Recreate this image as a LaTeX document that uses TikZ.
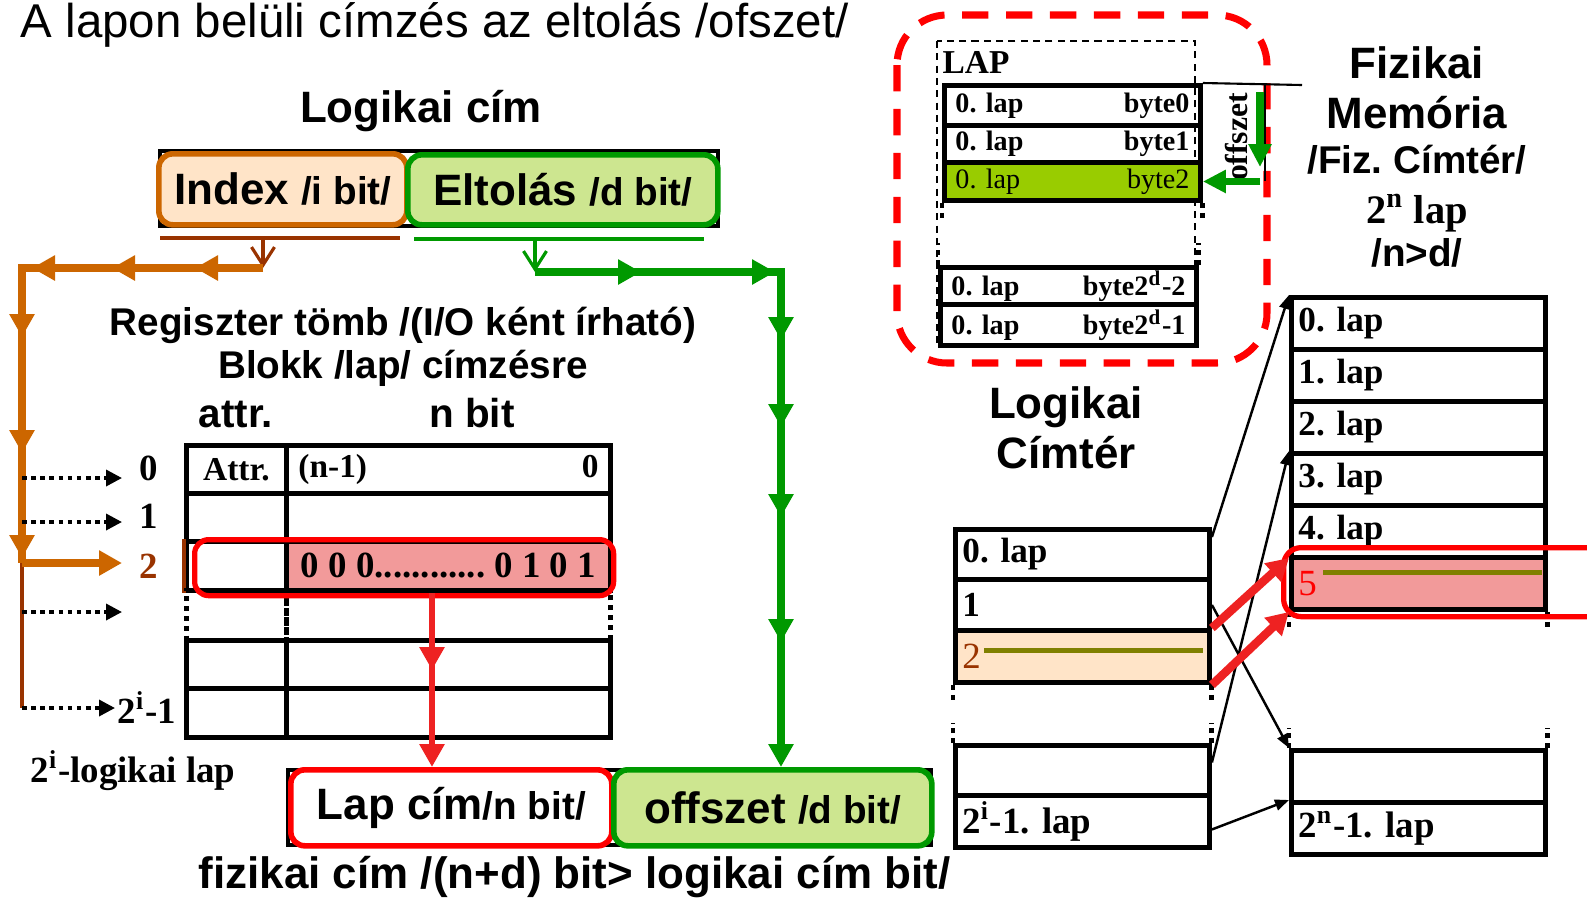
\documentclass[tikz,border=0pt]{standalone}
\usepackage{fontspec}
\setmainfont{Liberation Sans}
\newfontfamily\tms{Liberation Serif}
\usepackage{tikz}
\usetikzlibrary{arrows.meta,positioning,calc,decorations.markings}
\definecolor{idxorange}{HTML}{CC6600}
\definecolor{idxbrown}{HTML}{993300}
\definecolor{idxpeach}{HTML}{FFE4C8}
\definecolor{offgreen}{HTML}{009900}
\definecolor{offlight}{HTML}{CDE690}
\definecolor{bytegreen}{HTML}{99CC00}
\definecolor{hitred}{HTML}{FF0000}
\definecolor{arrowred}{HTML}{EE2222}
\definecolor{hitpink}{HTML}{F29A9A}
\definecolor{lineolive}{HTML}{808000}
\newcommand{\fsz}[1]{\fontsize{#1}{#1}\selectfont}
\frenchspacing

\begin{document}
\begin{tikzpicture}[y=-1cm,
    sans/.style={font=\bfseries\fsz{#1}},
    serif/.style={font=\tms\bfseries\fsz{#1}},
    cell/.style={draw, line width=1.4pt, inner sep=0pt, anchor=north west},
    dotcell/.style={cell, dash pattern=on 1.4pt off 1.4pt},
    lrow/.style={cell, minimum width=2.56cm, text width=2.34cm, align=left, serif=8},
    lcell/.style={cell, minimum width=2.54cm, text width=2.40cm, align=left, serif=10},
    addrbox/.style={draw, line width=1.6pt, rounded corners=4pt, inner sep=0pt, font=\bfseries, anchor=north west},
    midtip/.style={postaction={decorate, decoration={markings, mark=at position #1 with {\arrow{Triangle[length=2.3mm,width=2.4mm]}}}}},
    bigarrow/.style={line width=2pt, -{Triangle[length=2.3mm,width=2.4mm]}},
    dotarrow/.style={line width=1pt, dash pattern=on 1.3pt off 1.3pt, -{Triangle[length=1.6mm,width=1.6mm]}},
    vopen/.style={line width=0.9pt, -{Straight Barb[length=1.8mm,width=2.3mm]}},
    maparrow/.style={line width=0.7pt, -{Triangle[length=1.4mm,width=1.1mm]}},
    hitarrow/.style={line width=2.4pt, arrowred, -{Triangle[length=2.2mm,width=2.4mm]}},
    dotmark/.style={line width=1.4pt, dash pattern=on 1.4pt off 1.4pt}
]
\useasboundingbox (0,0) rectangle (15.87,9.00);

\node[font=\fsz{13.5}, anchor=base west, inner sep=0pt] (title) at (0.20,0.37) {A lapon belüli címzés az eltolás /ofszet/};
\node[sans=12.5, anchor=base] (logcim) at (4.21,1.22) {Logikai cím};

% logikai cim
\draw[line width=1.2pt] (1.60,1.51) rectangle (7.18,2.26);
\node[addrbox, draw=idxorange, fill=idxpeach, minimum width=2.48cm, minimum height=0.71cm] (index) at (1.56,1.51) {\fsz{12.5}Index \fsz{11}/i bit/};
\node[addrbox, draw=offgreen, fill=offlight, minimum width=3.10cm, minimum height=0.70cm] (eltolas) at (4.05,1.52) {\fsz{12.5}Eltolás \fsz{11}/d bit/};
\draw[idxbrown, line width=0.9pt] (1.60,2.38) -- (4.00,2.38);
\draw[offgreen, line width=0.9pt] (4.14,2.39) -- (7.04,2.39);

% register table
\node[sans=11, anchor=base] (regtitle) at (4.03,3.35) {Regiszter tömb /(I/O ként írható)};
\node[sans=11, anchor=base] (blokk) at (4.03,3.78) {Blokk /lap/ címzésre};
\node[sans=11.5, anchor=base] (attrhead) at (2.36,4.27) {attr.};
\node[sans=11.5, anchor=base] (nbit) at (4.72,4.27) {n bit};

\node[cell, minimum width=1cm, minimum height=0.48cm, serif=9.5] (a0) at (1.84,4.43) {Attr.};
\node[cell, minimum width=3.24cm, minimum height=0.48cm, text width=3.0cm, align=left, serif=9.5] (n0) at (2.84,4.43) {(n-1)\hfill 0};
\node[cell, minimum width=1cm, minimum height=0.48cm] (a1) at (1.84,4.91) {};
\node[cell, minimum width=3.24cm, minimum height=0.48cm] (n1) at (2.84,4.91) {};
\node[cell, minimum width=1cm, minimum height=0.49cm] (a2) at (1.84,5.39) {};
\node[cell, minimum width=3.24cm, minimum height=0.49cm, fill=hitpink, serif=10.5] (n2) at (2.84,5.39) {0 0 0............ 0 1 0 1};
\draw[idxbrown, line width=1.4pt] (a2.north west) -- (a2.south west);
\node[dotcell, minimum width=1cm, minimum height=0.50cm] (a3) at (1.84,5.88) {};
\node[dotcell, minimum width=3.24cm, minimum height=0.50cm] (n3) at (2.84,5.88) {};
\node[cell, minimum width=1cm, minimum height=0.48cm] (a4) at (1.84,6.38) {};
\node[cell, minimum width=3.24cm, minimum height=0.48cm] (n4) at (2.84,6.38) {};
\node[cell, minimum width=1cm, minimum height=0.49cm] (a5) at (1.84,6.86) {};
\node[cell, minimum width=3.24cm, minimum height=0.49cm] (n5) at (2.84,6.86) {};
\node[draw=hitred, line width=1.5pt, rounded corners=4pt, inner sep=0pt, minimum width=4.19cm, minimum height=0.56cm, anchor=north west] (hit) at (1.92,5.37) {};

\node[serif=10.5, anchor=base] (row0) at (1.49,4.80) {0};
\node[serif=10.5, anchor=base] (row1) at (1.49,5.28) {1};
\node[serif=10.5, anchor=base, text=idxbrown] (row2) at (1.49,5.78) {2};
\node[serif=10.5, anchor=base west, inner sep=0pt] (rowlast) at (1.17,7.23) {2\textsuperscript{i}-1};
\node[serif=10.5, anchor=base west, inner sep=0pt] (loglap) at (0.30,7.82) {2\textsuperscript{i}-logikai lap};

% fizikai cim
\draw[line width=1.2pt] (2.88,7.70) rectangle (9.31,8.45);
\node[addrbox, draw=hitred, fill=white, minimum width=3.21cm, minimum height=0.76cm] (lapcim) at (2.88,7.67) {\fsz{12.5}Lap cím\fsz{11}/n bit/};
\node[addrbox, draw=offgreen, fill=offlight, minimum width=3.18cm, minimum height=0.76cm] (offs) at (6.11,7.67) {\fsz{12.5}offszet \fsz{11}/d bit/};
\node[sans=12.5, anchor=base west, inner sep=0pt] (fizcim) at (1.98,8.88) {fizikai cím /(n+d) bit> logikai cím bit/};

% index path
\coordinate (ibar) at (2.63,2.38);
\coordinate (iturn) at (2.63,2.68);
\coordinate (icorner) at (0.22,2.68);
\coordinate (irow2) at (0.22,5.63);
\coordinate (ilast) at (0.22,7.08);
\coordinate (e0) at (1.22,4.78);
\coordinate (e1) at (1.22,5.22);
\coordinate (e2) at (1.22,5.63);
\coordinate (e3) at (1.22,6.12);
\coordinate (e4) at (1.15,7.08);
\draw[vopen, idxbrown] (ibar) -- (iturn);
\draw[idxorange, line width=2pt, midtip=0.68cm, midtip=1.51cm, midtip=2.31cm, midtip=3.10cm, midtip=4.26cm, midtip=5.31cm] (iturn) -- (icorner) -- (irow2);
\draw[idxbrown, line width=1pt] (irow2) -- (ilast);
\draw[dotarrow] (icorner |- e0) -- (e0);
\draw[dotarrow] (icorner |- e1) -- (e1);
\draw[bigarrow, idxorange] (irow2) -- (e2);
\draw[dotarrow] (icorner |- e3) -- (e3);
\draw[dotarrow] (ilast) -- (e4);

% offset path
\coordinate (gbar) at (5.35,2.39);
\coordinate (gturn) at (5.35,2.72);
\coordinate (gcorner) at (7.81,2.72);
\draw[vopen, offgreen] (gbar) -- (gturn);
\draw[offgreen, line width=2pt, midtip=1.06cm, midtip=2.40cm, midtip=3.14cm, midtip=4.01cm, midtip=4.91cm, midtip=6.16cm, -{Triangle[length=2.3mm,width=2.4mm]}] (gturn) -- (gcorner) -- (gcorner |- offs.north);

\coordinate (rtop) at (4.32,5.93);
\draw[arrowred, line width=1.8pt, midtip=0.77cm, -{Triangle[length=2.3mm,width=2.4mm]}] (rtop) -- (rtop |- lapcim.north);

% lap
\draw[hitred, line width=2pt, dash pattern=on 7.5pt off 5pt, rounded corners=0.5cm] (8.97,0.15) rectangle (12.67,3.63);
\draw[line width=0.5pt, dash pattern=on 2pt off 1.5pt] (9.37,0.41) rectangle (11.95,3.45);
\node[serif=9.5, anchor=base west, inner sep=0pt] (laphead) at (9.42,0.73) {LAP};
\node[lrow, minimum height=0.40cm] (lr0) at (9.42,0.83) {0. lap\hfill byte0};
\node[lrow, minimum height=0.37cm] (lr1) at (9.42,1.23) {0. lap\hfill byte1};
\node[lrow, minimum height=0.38cm, fill=bytegreen, font=\tms\fsz{8}] (lr2) at (9.42,1.60) {0. lap\hfill byte2};
\node[lrow, minimum height=0.37cm] (lr3) at (9.38,2.65) {0. lap\hfill byte2\textsuperscript{d}-2};
\node[lrow, minimum height=0.41cm] (lr4) at (9.38,3.02) {0. lap\hfill byte2\textsuperscript{d}-1};
\draw[dotmark] (lr2.south west) -- ++(0,0.17);
\draw[dotmark] (lr2.south east) -- ++(0,0.17);
\draw[dotmark] (lr3.north west) -- ++(0,-0.22);
\draw[dotmark] (lr3.north east) -- ++(0,-0.22);

\coordinate (ofsend) at (13.02,0.85);
\coordinate (ofsbar) at (12.65,0.85);
\coordinate (gtop) at (12.60,0.92);
\coordinate (gbot) at (12.60,1.67);
\draw[line width=0.6pt] (lr0.north east) -- (ofsend);
\draw[line width=0.6pt] (ofsbar) -- (ofsbar |- lr2.east);
\node[serif=9, rotate=90] (ofstext) at (12.37,1.37) {offszet};
\draw[offgreen, line width=2pt, -{Triangle[length=2.3mm,width=2.2mm]}] (gtop) -- (gbot);
\draw[offgreen, line width=2pt, -{Triangle[length=2.3mm,width=2.2mm]}] (gtop |- lr2.east) -- (lr2.east);

% fizikai memoria
\node[sans=12.5, anchor=base] (fiz1) at (14.17,0.78) {Fizikai};
\node[sans=12.5, anchor=base] (fiz2) at (14.17,1.28) {Memória};
\node[sans=11, anchor=base] (fiz3) at (14.17,1.73) {/Fiz. Címtér/};
\node[serif=11.5, anchor=base] (fiz4) at (14.17,2.23) {2\textsuperscript{n} lap};
\node[sans=11, anchor=base] (fiz5) at (14.17,2.66) {/n>d/};

\node[sans=12.5, anchor=base] (logt1) at (10.66,4.18) {Logikai};
\node[sans=12.5, anchor=base] (logt2) at (10.66,4.68) {Címtér};

% logikai cimter
\node[lcell, minimum height=0.50cm] (l0) at (9.53,5.27) {0. lap};
\node[lcell, minimum height=0.51cm] (l1) at (9.53,5.77) {1};
\node[lcell, minimum height=0.52cm, fill=idxpeach, font=\tms\fsz{10.5}, text=idxbrown] (l2) at (9.53,6.28) {2};
\node[lcell, minimum height=0.50cm] (l3) at (9.53,7.43) {};
\node[lcell, minimum height=0.52cm, serif=10.5] (l4) at (9.53,7.93) {2\textsuperscript{i}-1. lap};
\draw[lineolive, line width=1.2pt] ($(l2.west)+(0.31,-0.06)$) -- ($(l2.east)+(-0.09,-0.06)$);
\draw[dotmark] (l2.south west) -- ++(0,0.18);
\draw[dotmark] (l2.south east) -- ++(0,0.18);
\draw[dotmark] (l3.north west) -- ++(0,-0.20);
\draw[dotmark] (l3.north east) -- ++(0,-0.20);

% fizikai cimter
\node[lcell, minimum height=0.52cm] (p0) at (12.89,2.95) {0. lap};
\node[lcell, minimum height=0.52cm] (p1) at (12.89,3.47) {1. lap};
\node[lcell, minimum height=0.52cm] (p2) at (12.89,3.99) {2. lap};
\node[lcell, minimum height=0.52cm] (p3) at (12.89,4.51) {3. lap};
\node[lcell, minimum height=0.52cm] (p4) at (12.89,5.03) {4. lap};
\node[lcell, minimum height=0.52cm, fill=hitpink, font=\tms\fsz{10.5}, text=hitred] (p5) at (12.89,5.55) {5};
\node[lcell, minimum height=0.52cm] (p6) at (12.89,7.48) {};
\node[lcell, minimum height=0.52cm, serif=10.5] (p7) at (12.89,8.00) {2\textsuperscript{n}-1. lap};
\draw[lineolive, line width=1.2pt] ($(p5.west)+(0.34,-0.11)$) -- ($(p5.east)+(-0.06,-0.11)$);
\draw[dotmark] (p5.south west) -- ++(0,0.18);
\draw[dotmark] (p5.south east) -- ++(0,0.18);
\draw[dotmark] (p6.north west) -- ++(0,-0.20);
\draw[dotmark] (p6.north east) -- ++(0,-0.20);
\node[draw=hitred, line width=1.5pt, rounded corners=5pt, inner sep=0pt, minimum width=3.3cm, minimum height=0.69cm, anchor=north west] (p5hit) at (12.81,5.45) {};

\draw[maparrow] ([yshift=-1mm]l0.north east) -- (p0.north west);
\draw[maparrow] (l1.east) -- (p6.north west);
\draw[maparrow] ([yshift=0.8mm]l3.east) -- (p3.north west);
\draw[maparrow] ([yshift=-0.8mm]l4.east) -- (p7.north west);
\draw[hitarrow] (l2.north east) -- ([yshift=-0.3mm]p5.north west);
\draw[hitarrow] (l2.south east) -- (p5.south west);

\end{tikzpicture}
\end{document}
